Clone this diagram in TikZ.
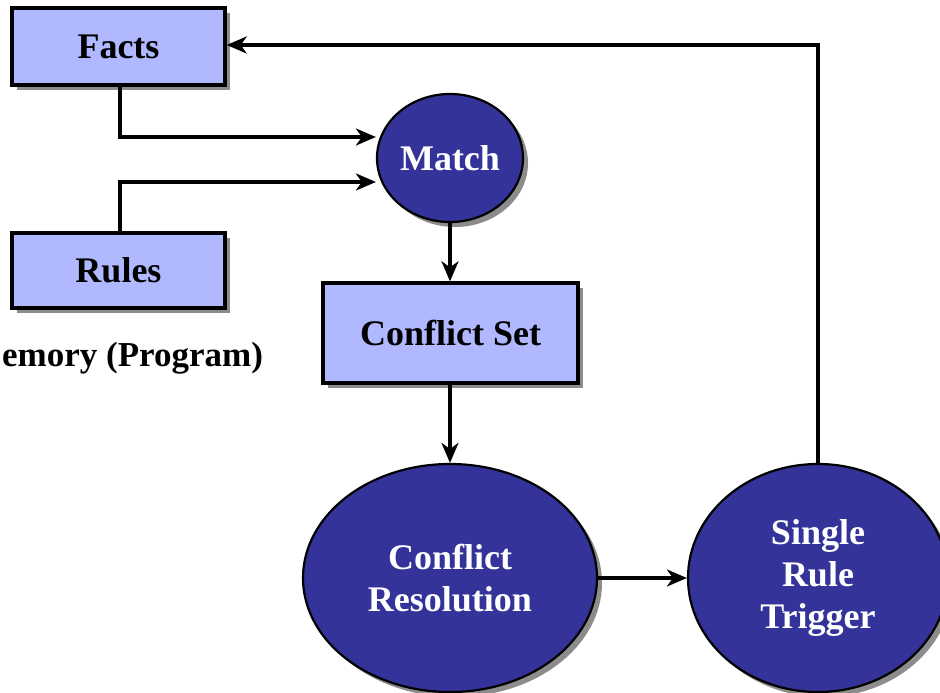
\documentclass[tikz,border=0pt]{standalone}
\usepackage{fontspec}
\setmainfont{Liberation Serif}
\usetikzlibrary{shapes.geometric,shadows,arrows.meta}
\definecolor{boxblue}{HTML}{B0B8FF}
\definecolor{darkblue}{HTML}{333399}
\tikzset{
  shade/.style={drop shadow={shadow xshift=5pt,shadow yshift=-5pt,fill=black!45,opacity=1}},
  factbox/.style={draw=black,line width=3.4pt,fill=boxblue,shade,rectangle,inner sep=0pt,
    font=\bfseries\fontsize{36}{42}\selectfont},
  procnode/.style={draw=black,line width=2.2pt,fill=darkblue,shade,ellipse,inner sep=0pt,
    text=white,align=center,font=\bfseries\fontsize{36}{42}\selectfont},
  flowline/.style={draw=black,line width=3.2pt,-{Stealth[length=20pt,width=17pt,inset=6pt]}}
}
\begin{document}
\begin{tikzpicture}[x=1pt,y=-1pt]
\useasboundingbox (0,0) rectangle (940,693);
\fill[white] (0,0) rectangle (940,693);
% memory boxes
\node[factbox,minimum width=213pt,minimum height=77pt] (facts) at (118.5,46.5) {Facts};
\node[factbox,minimum width=213pt,minimum height=75pt] (rules) at (118.5,270.5) {Rules};
\node[anchor=west,inner sep=0pt,font=\bfseries\fontsize{35}{40}\selectfont] (memlabel) at (2,358) {emory (Program)};
% inference cycle
\node[procnode,minimum width=146pt,minimum height=128pt] (match) at (450,158) {Match};
\node[factbox,minimum width=255pt,minimum height=100pt] (cset) at (450.5,333) {Conflict Set};
\node[procnode,minimum width=294pt,minimum height=228pt] (resol) at (450,578) {Conflict\\Resolution};
\node[procnode,minimum width=260pt,minimum height=228pt] (trig) at (818,578) {Single\\Rule\\Trigger};
% connectors
\coordinate (f1) at (120,137);
\coordinate (r1) at (120,182);
\path[flowline] (facts.south -| f1) -- (f1) -- (f1 -| match.west);
\path[flowline] (rules.north -| r1) -- (r1) -- (match.west |- r1);
\path[flowline] (match.south) -- (cset.north -| match.south);
\path[flowline] (cset.south -| resol.north) -- (resol.north);
\path[flowline] (resol.east) -- (trig.west);
\coordinate (t1) at (818,45);
\path[flowline] (trig.north) -- (t1) -- (t1 -| facts.east);
\end{tikzpicture}
\end{document}
